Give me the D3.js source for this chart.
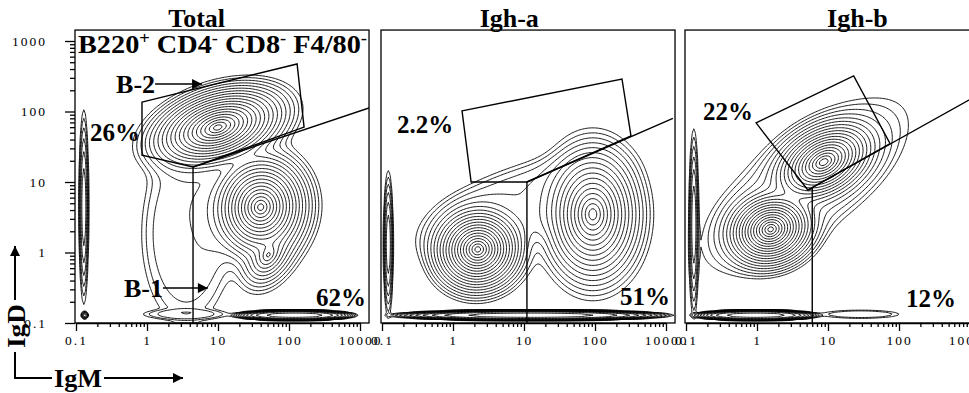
<!DOCTYPE html>
<html>
<head>
<meta charset="utf-8">
<script src="https://cdn.jsdelivr.net/npm/d3@7"></script>
<style>
  body { margin: 0; background: #fff; }
  text { font-family: "Liberation Serif", "Times New Roman", serif; fill: #000; }
</style>
</head>
<body>
<svg id="chart" width="969" height="393"></svg>
<script>
// ---- data ----
const panelTitles = ["Total", "Igh-a", "Igh-b"];
const tickValues = [0.1, 1, 10, 100, 1000];
const xTickLabels = ["0.1", "1", "10", "100", "10000"];
const yTickLabels = ["0.1", "1", "10", "100", "1000"];

// populations: IgM, IgD, major spread, minor spread (decades), angle (deg), weight, shape
const totalPops = [
  [9.7, 58, 0.13, 0.07, 18, 1.0, 1],        // B-2
  [39, 4.3, 0.105, 0.095, 80, 0.6, 1],      // B-1
  [50, 0.9, 0.12, 0.08, 60, 0.01, 1],       // B-1 low IgD tail
  [3.5, 1.8, 1.2, 0.58, 90, 0.00028, 4],    // diffuse low IgM
  [0.126, 4.3, 0.82, 0.042, 90, 0.0012, 2], // pile-up on IgD axis
  [117, 0.126, 0.6, 0.052, 0, 0.01, 4],     // pile-up on IgM axis
  [3.4, 0.13, 0.6, 0.07, 0, 0.00017, 4],
  [0.13, 0.126, 0.03, 0.03, 0, 0.0012, 2]
];
const ighAPops = [
  [2.18, 1.08, 0.085, 0.08, 15, 1.0, 1],
  [91, 3.4, 0.15, 0.105, 90, 0.25, 1],
  [8, 4.5, 1.3, 0.5, 20, 0.00028, 4],
  [0.12, 1.28, 0.62, 0.042, 90, 0.0012, 2],
  [12.2, 0.126, 1.35, 0.052, 0, 0.01, 4]
];
const ighBPops = [
  [8.5, 18.7, 0.11, 0.07, 30, 0.7, 1],
  [1.52, 2.08, 0.085, 0.07, 20, 1.0, 1],
  [4.7, 9.1, 1.6, 0.65, 38, 0.00028, 4],
  [0.126, 2.5, 0.8, 0.042, 90, 0.0012, 2],
  [0.94, 0.126, 0.62, 0.052, 0, 0.01, 4],
  [28, 0.13, 0.56, 0.06, 0, 0.00017, 4]
];

// gates (IgM, IgD)
const totalB2Gate = [[0.85, 136], [130, 472], [163, 60], [4.45, 16.3], [0.85, 24]];
const totalSplit = [[1340, 112], [4.45, 16.3], [4.45, 0.1]];
const ighAGate = [[1.34, 102], [240, 289], [321, 45], [11, 10], [1.8, 10]];
const ighASplit = [[1250, 80], [11, 10], [11, 0.1]];
const ighBGate = [[0.97, 69], [23, 319], [75, 35], [5.2, 7.7]];
const ighBSplit = [[1260, 169], [5.2, 7.7], [6.0, 8.1], [6.0, 0.1]];

const totalPct = ["26%", "62%"];
const ighAPct = ["2.2%", "51%"];
const ighBPct = ["22%", "12%"];

// ---- layout ----
const svg = d3.select("#chart");
const panelLeft = [76, 382, 686];
const decadeW = 71, decadeH = 70.5, axisY = 323;
const frameMax = [1340, 1430];

const panels = [
  { title: panelTitles[0], titleAt: 5, pops: totalPops, gate: totalB2Gate, split: totalSplit, pct: totalPct,
    pctAt: [[0.158, 38, "start"], [1216, 0.174, "end"]] },
  { title: panelTitles[1], titleAt: 6.2, pops: ighAPops, gate: ighAGate, split: ighASplit, pct: ighAPct,
    pctAt: [[0.163, 49.5, "start"], [1138, 0.18, "end"]] },
  { title: panelTitles[2], titleAt: 26, pops: ighBPops, gate: ighBGate, split: ighBSplit, pct: ighBPct,
    pctAt: [[0.174, 76, "start"], [635, 0.169, "end"]] }
];

const defs = svg.append("defs");
defs.append("marker").attr("id", "ah").attr("viewBox", "0 0 10 10")
  .attr("refX", 10).attr("refY", 5).attr("markerWidth", 14).attr("markerHeight", 10)
  .attr("markerUnits", "userSpaceOnUse").attr("orient", "auto")
  .append("path").attr("d", "M0,0L10,5L0,10Z").attr("fill", "#000");

const step = 0.02, g0 = -1, nGrid = 211;
const thresholds = d3.range(1, 21).map(k => Math.pow(0.62, k));

function densityGrid(pops) {
  const comps = pops.map(([mx, my, a, b, ang, w, p]) => {
    const t = ang * Math.PI / 180;
    return { cx: Math.log10(mx), cy: Math.log10(my), a, b, c: Math.cos(t), s: Math.sin(t), w, p };
  });
  const vals = new Float64Array(nGrid * nGrid);
  for (let j = 0; j < nGrid; j++) {
    const ly = g0 + j * step;
    for (let i = 0; i < nGrid; i++) {
      const lx = g0 + i * step;
      let sum = 0;
      for (const k of comps) {
        const dx = lx - k.cx, dy = ly - k.cy;
        const u = (dx * k.c + dy * k.s) / k.a;
        const v = (-dx * k.s + dy * k.c) / k.b;
        sum += k.w * Math.exp(-Math.pow(Math.sqrt(u * u + v * v), k.p));
      }
      vals[j * nGrid + i] = sum;
    }
  }
  return vals;
}

panels.forEach((pn, idx) => {
  const x0 = panelLeft[idx];
  const x = d3.scaleLog().domain([0.1, 1000]).range([x0, x0 + 4 * decadeW]);
  const y = d3.scaleLog().domain([0.1, 1000]).range([axisY, axisY - 4 * decadeH]);
  const g = svg.append("g");

  const fx0 = x(0.1) - 1, fx1 = x(frameMax[0]), fy0 = y(frameMax[1]);
  defs.append("clipPath").attr("id", "clip" + idx)
    .append("rect").attr("x", fx0).attr("y", fy0).attr("width", fx1 - fx0).attr("height", axisY - fy0);

  // contours
  const vals = densityGrid(pn.pops);
  const contours = d3.contours().size([nGrid, nGrid]).thresholds(thresholds)(vals);
  const proj = d3.geoTransform({
    point(px, py) {
      this.stream.point(x(Math.pow(10, g0 + px * step)), y(Math.pow(10, g0 + py * step)));
    }
  });
  const path = d3.geoPath(proj);
  g.append("g").attr("clip-path", `url(#clip${idx})`)
    .selectAll("path").data(contours).join("path")
    .attr("d", path).attr("fill", "none").attr("stroke", "#000").attr("stroke-width", 0.9);

  // frame
  g.append("rect").attr("x", fx0).attr("y", fy0).attr("width", fx1 - fx0).attr("height", axisY - fy0)
    .attr("fill", "none").attr("stroke", "#000").attr("stroke-width", 1.3);

  // gates
  const line = d3.line().x(d => x(d[0])).y(d => y(d[1]));
  g.append("g").attr("clip-path", `url(#clip${idx})`).call(s => {
    s.append("path").attr("d", line(pn.gate) + "Z").attr("fill", "none").attr("stroke", "#000").attr("stroke-width", 1.4);
    s.append("path").attr("d", line(pn.split)).attr("fill", "none").attr("stroke", "#000").attr("stroke-width", 1.4);
  });

  // x axis
  const minor = [];
  for (let d = 0.1; d < 1000; d *= 10) for (let m = 2; m <= 9; m++) minor.push(d * m);
  g.append("g").attr("transform", `translate(0,${axisY})`)
    .call(d3.axisBottom(x).tickValues(minor).tickSize(4).tickFormat(""))
    .call(a => a.select(".domain").remove());
  const xa = g.append("g").attr("transform", `translate(0,${axisY})`)
    .call(d3.axisBottom(x).tickValues(tickValues).tickSize(8).tickSizeOuter(0).tickPadding(4)
      .tickFormat((d, i) => xTickLabels[i]));
  xa.selectAll("text").attr("font-size", 13.5).style("letter-spacing", "2px")
    .style("font-family", "Liberation Serif, serif");
  g.selectAll(".tick line, .domain").attr("stroke", "#000").attr("stroke-width", 1.3);

  if (idx === 0) {
    g.append("g").attr("transform", `translate(${fx0},0)`)
      .call(d3.axisLeft(y).tickValues(minor).tickSize(5).tickFormat(""))
      .call(a => a.select(".domain").remove());
    const ya = g.append("g").attr("transform", `translate(${fx0},0)`)
      .call(d3.axisLeft(y).tickValues(tickValues).tickSize(10).tickSizeOuter(0).tickPadding(18)
        .tickFormat((d, i) => yTickLabels[i]));
    ya.selectAll("text").attr("font-size", 13.5).style("letter-spacing", "2px")
      .style("font-family", "Liberation Serif, serif");
    ya.select(".domain").remove();
    g.selectAll(".tick line").attr("stroke", "#000").attr("stroke-width", 1.3);
  }

  // title
  g.append("text").attr("x", x(pn.titleAt)).attr("y", 27).attr("text-anchor", "middle")
    .attr("font-size", 26).attr("font-weight", "bold").text(pn.title);

  // percentages
  pn.pct.forEach((t, i) => {
    const [vx, vy, anchor] = pn.pctAt[i];
    g.append("text").attr("x", x(vx)).attr("y", y(vy)).attr("text-anchor", anchor)
      .attr("font-size", 25).attr("font-weight", "bold").text(t);
  });

  if (idx === 0) {
    const marker = g.append("text").attr("x", x(0.1) + 2).attr("y", 53)
      .attr("font-size", 26).attr("font-weight", "bold")
      .attr("textLength", 289).attr("lengthAdjust", "spacingAndGlyphs");
    [["B220", "+"], [" CD4", "-"], [" CD8", "-"], [" F4/80", "-"]].forEach(([base, sup], i) => {
      marker.append("tspan").attr("dy", i === 0 ? 0 : 9).text(base);
      marker.append("tspan").attr("dy", -9).attr("font-size", 17).text(sup);
    });
    // B-2 and B-1 pointers
    g.append("text").attr("x", x(1.3)).attr("y", y(183)).attr("text-anchor", "end")
      .attr("font-size", 26).attr("font-weight", "bold").text("B-2");
    g.append("line").attr("x1", x(1.3)).attr("y1", y(245)).attr("x2", x(5.96)).attr("y2", y(245))
      .attr("stroke", "#000").attr("stroke-width", 1.6).attr("marker-end", "url(#ah)");
    g.append("text").attr("x", x(1.68)).attr("y", y(0.234)).attr("text-anchor", "end")
      .attr("font-size", 26).attr("font-weight", "bold").text("B-1");
    g.append("line").attr("x1", x(1.68)).attr("y1", y(0.313)).attr("x2", x(7.2)).attr("y2", y(0.313))
      .attr("stroke", "#000").attr("stroke-width", 1.6).attr("marker-end", "url(#ah)");
  }
});

// corner axis legend
const leg = svg.append("g");
leg.append("line").attr("x1", 15).attr("y1", 300).attr("x2", 15).attr("y2", 246)
  .attr("stroke", "#000").attr("stroke-width", 2).attr("marker-end", "url(#ah)");
leg.append("polyline").attr("points", "15,352 15,378 52,378")
  .attr("fill", "none").attr("stroke", "#000").attr("stroke-width", 2);
leg.append("line").attr("x1", 104).attr("y1", 378).attr("x2", 183).attr("y2", 378)
  .attr("stroke", "#000").attr("stroke-width", 2).attr("marker-end", "url(#ah)");
leg.append("text").attr("transform", "translate(25,348) rotate(-90)")
  .attr("font-size", 26).attr("font-weight", "bold").attr("textLength", 44)
  .attr("lengthAdjust", "spacingAndGlyphs").text("IgD");
leg.append("text").attr("x", 54).attr("y", 387)
  .attr("font-size", 26).attr("font-weight", "bold").attr("textLength", 48)
  .attr("lengthAdjust", "spacingAndGlyphs").text("IgM");
</script>
</body>
</html>
